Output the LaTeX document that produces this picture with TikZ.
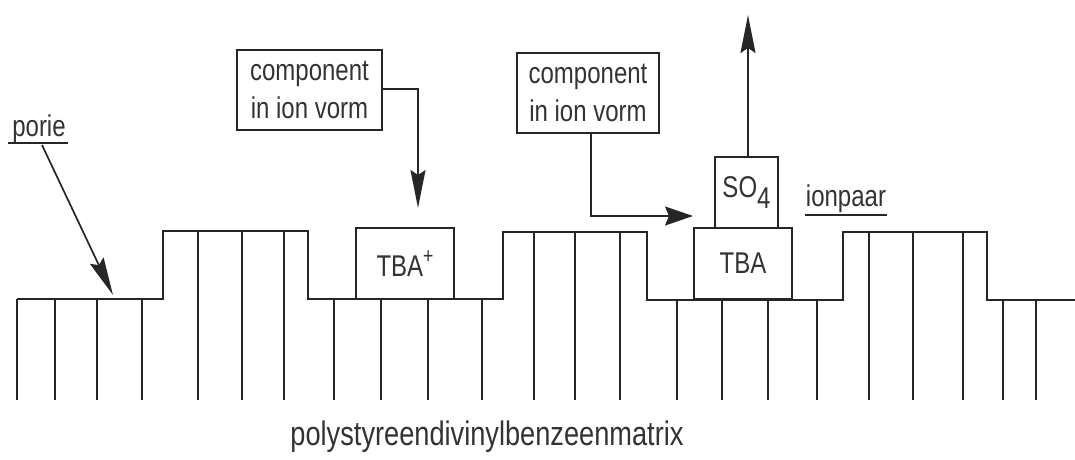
\documentclass[tikz,border=0pt]{standalone}
\usepackage{fontspec}
\setmainfont{Liberation Sans}[FakeStretch=0.8]
\usetikzlibrary{arrows.meta}
\begin{document}
\begin{tikzpicture}[x=1pt,y=-1pt,
  ln/.style={line width=1.7pt,draw=black!85},
  box/.style={ln,rectangle,inner sep=0pt,align=center,text=black!80},
  lbl/.style={text=black!80,inner sep=0pt},
  arr/.style={ln,-{Stealth[length=38pt,width=15pt,inset=5pt]}},
  arrs/.style={ln,-{Stealth[length=28pt,width=19pt,inset=4pt]}},
  txt/.style={font=\fontsize{30}{38}\selectfont}]
\useasboundingbox (0,0) rectangle (1075,459);
% profile
\draw[ln] (17,299) -- (163,299) -- (163,231) -- (308,231) -- (308,299) -- (503,299) -- (503,232)
  -- (647,232) -- (647,300) -- (843,300) -- (843,232) -- (987,232) -- (987,300) -- (1075,300);
\foreach \x in {17,55,97,142,334,381,428,482} \draw[ln] (\x,299) -- (\x,400);
\foreach \x in {198,242,284} \draw[ln] (\x,231) -- (\x,400);
\foreach \x in {534,575,620,869,913,963} \draw[ln] (\x,232) -- (\x,400);
\foreach \x in {677,722,768,817,1003,1036} \draw[ln] (\x,300) -- (\x,400);
% boxes
\node[box,txt,fill=white,minimum width=98pt,minimum height=71pt] (tbap) at (405,263.5) {TBA\raisebox{0.42em}{\fontsize{22}{22}\selectfont+}};
\node[box,txt,fill=white,minimum width=98pt,minimum height=71pt] (tba) at (743,263.5) {TBA};
\node[box,txt,fill=white,minimum width=63pt,minimum height=71pt] (so4) at (746.5,192.5) {SO\raisebox{-0.38em}{4}};
\node[box,txt,minimum width=145pt,minimum height=80pt] (c1) at (309.5,90) {component\\in ion vorm};
\node[box,txt,minimum width=142pt,minimum height=80pt] (c2) at (588,93) {component\\in ion vorm};
% labels
\node[lbl,txt,anchor=base] (porie) at (39,136) {porie};
\node[lbl,txt,anchor=base] (ionpaar) at (846,206) {ionpaar};
\node[lbl,font=\fontsize{34}{34}\selectfont,anchor=base] (matrix) at (487,445) {polystyreendivinylbenzeenmatrix};
\draw[ln] (8,143) -- (68,143);
\draw[ln] (805,215) -- (887,215);
% connectors
\coordinate (e1) at (418,208);
\coordinate (e2) at (693,216);
\coordinate (e3) at (748,15);
\coordinate (e4) at (113,295);
\draw[arr] (c1.east |- 0,89) -- (418,89) -- (e1);
\draw[arrs] (c2.south -| 591,0) -- (591,216) -- (e2);
\draw[arr] (so4.north -| 748,0) -- (e3);
\draw[arr] (42,145) -- (e4);
\end{tikzpicture}
\end{document}
